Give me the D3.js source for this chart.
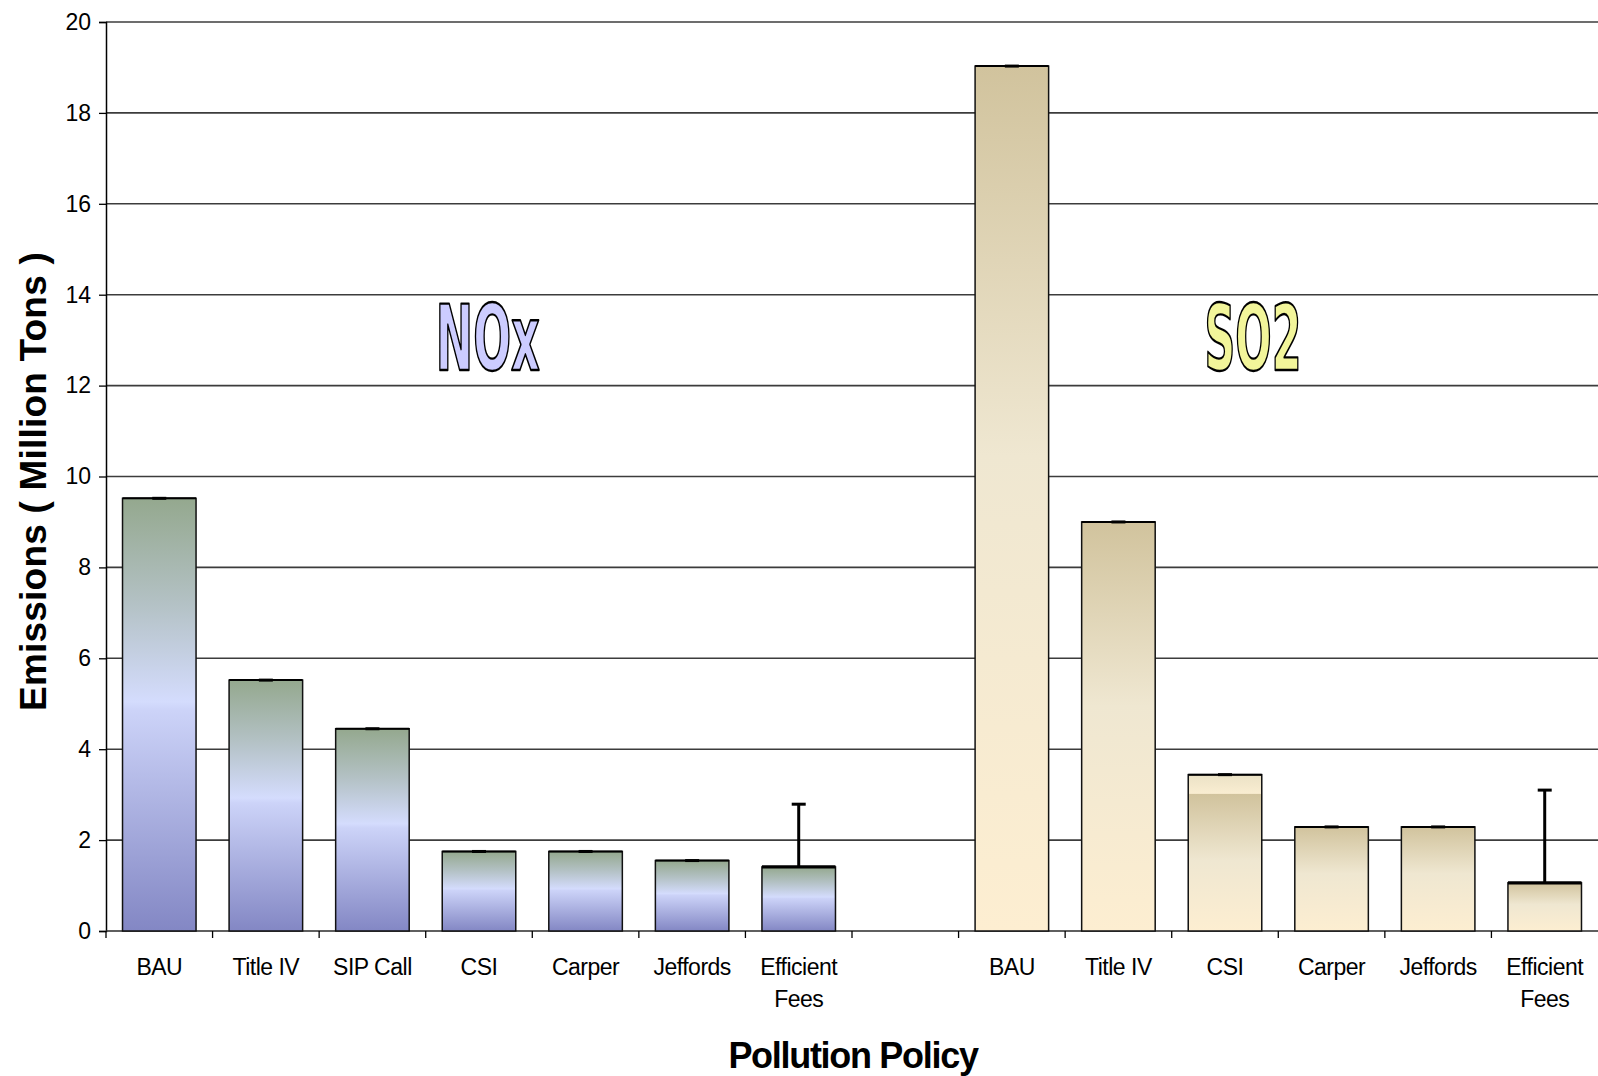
<!DOCTYPE html>
<html>
<head>
<meta charset="utf-8">
<script src="https://cdn.jsdelivr.net/npm/d3@7"></script>
<style>
  html, body { margin: 0; padding: 0; background: #ffffff; }
  svg { display: block; }
  text { font-family: "Liberation Sans", Arial, sans-serif; }
</style>
</head>
<body>
<svg id="chart" width="1598" height="1076"></svg>
<script>
// Emissions by pollution policy, NOx group then SO2 group (million tons)
const noxPolicies = ["BAU", "Title IV", "SIP Call", "CSI", "Carper", "Jeffords", "Efficient Fees"];
const noxValues   = [9.52, 5.52, 4.45, 1.75, 1.75, 1.55, 1.41];
const noxErrorUp  = [0, 0, 0, 0, 0, 0, 1.38];

const so2Policies = ["BAU", "Title IV", "CSI", "Carper", "Jeffords", "Efficient Fees"];
const so2Values   = [19.03, 9.0, 3.44, 2.29, 2.29, 1.06];
const so2ErrorUp  = [0, 0, 0, 0, 0, 2.04];

const yTicks = [0, 2, 4, 6, 8, 10, 12, 14, 16, 18, 20];

const groupLabels = ["NOx", "SO2"];

// ---- build rows ----
const rows = [];
noxPolicies.forEach((p, i) => rows.push({ id: "NOx|" + p, group: "NOx", policy: p, value: noxValues[i], err: noxErrorUp[i] }));
rows.push({ id: "gap", group: null, policy: "", value: null, err: 0 });
so2Policies.forEach((p, i) => rows.push({ id: "SO2|" + p, group: "SO2", policy: p, value: so2Values[i], err: so2ErrorUp[i] }));

const svg = d3.select("#chart");
const margin = { left: 106, right: 0, top: 22, bottom: 145 };
const W = 1598, H = 1076;

const x = d3.scaleBand()
  .domain(rows.map(d => d.id))
  .range([margin.left, W - margin.right])
  .paddingInner(0.31)
  .paddingOuter(0.155);

const y = d3.scaleLinear().domain([0, 20]).range([H - margin.bottom, margin.top]);

// ---- gradients ----
const defs = svg.append("defs");
function grad(id, stops) {
  const g = defs.append("linearGradient").attr("id", id)
    .attr("x1", 0).attr("y1", 0).attr("x2", 0).attr("y2", 1);
  stops.forEach(s => g.append("stop").attr("offset", s[0]).attr("stop-color", s[1]));
}
grad("g-nox", [[0, "#94a88e"], [0.24, "#b3c1c4"], [0.47, "#d4dcfd"], [0.49, "#ccd3f8"], [1, "#8387c4"]]);
grad("g-so2", [[0, "#d1c39d"], [0.45, "#efe7d1"], [1, "#fdeed1"]]);
grad("g-so2-split", [[0, "#ebe2c6"], [0.12, "#f9edd1"], [0.125, "#d1c39d"], [0.55, "#efe7d1"], [1, "#fdeed1"]]);

function fillFor(d) {
  if (d.group === "NOx") return "url(#g-nox)";
  if (d.policy === "CSI") return "url(#g-so2-split)";
  return "url(#g-so2)";
}

// ---- gridlines ----
svg.append("g")
  .selectAll("line")
  .data(yTicks.filter(t => t > 0))
  .join("line")
  .attr("x1", margin.left).attr("x2", W - margin.right)
  .attr("y1", d => y(d)).attr("y2", d => y(d))
  .attr("stroke", "#3c3c3c").attr("stroke-width", 1.6);

// ---- y axis ----
const yAxis = svg.append("g")
  .attr("transform", `translate(${margin.left},0)`)
  .call(d3.axisLeft(y).tickValues(yTicks).tickSize(7).tickPadding(8).tickFormat(d3.format("d")));
yAxis.select(".domain").attr("stroke", "#000").attr("stroke-width", 1.5);
yAxis.selectAll(".tick line").attr("stroke", "#000").attr("stroke-width", 1.3);
yAxis.selectAll(".tick text")
  .attr("font-size", 23).attr("fill", "#000")
  .style("font-family", "'Liberation Sans', Arial, sans-serif");

// ---- x axis ----
const step = x.step();
const xAxisG = svg.append("g").attr("transform", `translate(0,${y(0)})`);
xAxisG.append("line")
  .attr("x1", margin.left).attr("x2", W - margin.right)
  .attr("stroke", "#2a2a2a").attr("stroke-width", 1.6);
// tick marks sit on the boundaries between categories
const boundaries = rows.map(d => x(d.id) - x.paddingInner() * step / 2);
xAxisG.selectAll("line.tk")
  .data(boundaries)
  .join("line").attr("class", "tk")
  .attr("x1", d => d).attr("x2", d => d)
  .attr("y1", 0).attr("y2", 7)
  .attr("stroke", "#000").attr("stroke-width", 1.3);

// category labels (wrap two-word "Efficient Fees")
const lab = svg.append("g").selectAll("text")
  .data(rows.filter(d => d.policy))
  .join("text")
  .attr("text-anchor", "middle")
  .attr("font-size", 23)
  .attr("letter-spacing", -0.5)
  .attr("fill", "#000");
lab.each(function (d) {
  const cx = x(d.id) + x.bandwidth() / 2;
  const lines = d.policy === "Efficient Fees" ? ["Efficient", "Fees"] : [d.policy];
  const t = d3.select(this);
  lines.forEach((ln, i) => t.append("tspan").attr("x", cx).attr("y", 975 + i * 32).text(ln));
});

// ---- bars ----
const bars = rows.filter(d => d.value != null);
svg.append("g").selectAll("rect")
  .data(bars)
  .join("rect")
  .attr("x", d => x(d.id))
  .attr("width", x.bandwidth())
  .attr("y", d => y(d.value))
  .attr("height", d => y(0) - y(d.value))
  .attr("fill", d => fillFor(d))
  .attr("stroke", "#111")
  .attr("stroke-width", 1.5);

// heavier top edge on each bar
svg.append("g").selectAll("line")
  .data(bars)
  .join("line")
  .attr("x1", d => x(d.id)).attr("x2", d => x(d.id) + x.bandwidth())
  .attr("y1", d => y(d.value)).attr("y2", d => y(d.value))
  .attr("stroke", "#000")
  .attr("stroke-width", d => d.err > 0 ? 3.2 : 2);

// ---- error bars (upper whisker with cap) ----
const eb = svg.append("g").selectAll("g").data(bars).join("g");
eb.append("line")
  .attr("x1", d => x(d.id) + x.bandwidth() / 2).attr("x2", d => x(d.id) + x.bandwidth() / 2)
  .attr("y1", d => y(d.value)).attr("y2", d => y(d.value + d.err))
  .attr("stroke", "#000").attr("stroke-width", 3);
eb.append("line")
  .attr("x1", d => x(d.id) + x.bandwidth() / 2 - 7).attr("x2", d => x(d.id) + x.bandwidth() / 2 + 7)
  .attr("y1", d => y(d.value + d.err)).attr("y2", d => y(d.value + d.err))
  .attr("stroke", "#000").attr("stroke-width", 3);

// ---- group labels ----
const groupStyle = {
  NOx: { fill: "#ccccff", cx: x("NOx|CSI") + x.bandwidth() * 0.62, width: 104 },
  SO2: { fill: "#f2f59a", cx: x("SO2|CSI") + x.bandwidth() * 0.88, width: 97 }
};
groupLabels.forEach(g => {
  const s = groupStyle[g];
  svg.append("text")
    .attr("x", s.cx)
    .attr("y", y(12.35))
    .attr("text-anchor", "middle")
    .attr("font-size", 90)
    .attr("font-weight", "bold")
    .style("font-family", "'Liberation Sans Narrow', 'DejaVu Sans Condensed', 'Liberation Sans', sans-serif")
    .attr("textLength", s.width)
    .attr("lengthAdjust", "spacingAndGlyphs")
    .attr("fill", s.fill)
    .attr("stroke", "#000")
    .attr("stroke-width", 2.4)
    .attr("stroke-linejoin", "round")
    .text(g);
});

// ---- axis titles ----
svg.append("text")
  .attr("x", (margin.left + W - margin.right) / 2 + 1)
  .attr("y", 1068)
  .attr("text-anchor", "middle")
  .attr("font-size", 36)
  .attr("font-weight", "bold")
  .attr("letter-spacing", -1.3)
  .attr("fill", "#000")
  .text("Pollution Policy");

svg.append("text")
  .attr("transform", `translate(46,${(y(0) + y(20)) / 2 + 5}) rotate(-90)`)
  .attr("text-anchor", "middle")
  .attr("font-size", 37)
  .attr("font-weight", "bold")
  .attr("letter-spacing", 0.2)
  .attr("fill", "#000")
  .text("Emissions ( Million Tons )");
</script>
</body>
</html>
